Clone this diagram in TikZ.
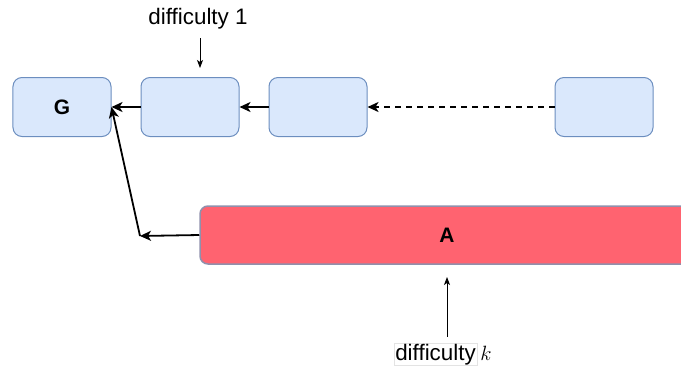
\documentclass[tikz,border=0pt]{standalone}
\usepackage{fontspec}
\setmainfont{Liberation Sans}
\usetikzlibrary{arrows.meta}
\definecolor{boxfill}{HTML}{DAE8FC}
\definecolor{boxline}{HTML}{6C8EBF}
\definecolor{redfill}{HTML}{FF6370}
\definecolor{redline}{HTML}{9090AC}
\begin{document}
\begin{tikzpicture}[x=1bp,y=-1bp,
  block/.style={draw=boxline, fill=boxfill, rounded corners=9bp, line width=1bp,
    minimum width=98bp, minimum height=59bp, inner sep=0pt,
    font=\fontsize{21}{24}\selectfont\bfseries},
  bigblock/.style={draw=redline, fill=redfill, rounded corners=8bp, line width=1.5bp,
    minimum width=494bp, minimum height=58bp, inner sep=0pt,
    font=\fontsize{21}{24}\selectfont\bfseries},
  conn/.style={line width=1.8bp, -{Stealth[length=11bp,width=10bp,inset=3bp]}},
  pointer/.style={line width=0.9bp, -{Stealth[length=8bp,width=6bp,inset=2bp]}},
  lbl/.style={inner sep=0pt, font=\fontsize{22.5}{26}\selectfont}
]
\useasboundingbox (0,0) rectangle (681,366);
\clip (0,0) rectangle (681,366);

% chain of blocks
\node[block] (G)  at (62,107)  {G};
\node[block] (b2) at (190,107) {};
\node[block] (b3) at (318,107) {};
\node[block] (b4) at (604,107) {};

% long block running off the right side
\node[bigblock] (A) at (447,235) {A};

% links along the chain
\draw[conn] (b2.west) -- (G.east);
\draw[conn] (b3.west) -- (b2.east);
\draw[conn, dash pattern=on 6bp off 5bp] (b4.west) -- (b3.east);

% link from A back to G through a corner point
\coordinate (bend) at (140,236);
\draw[conn] (A.west) -- (bend);
\draw[conn] (bend) -- (G.east);

% difficulty labels
\node[lbl] (d1) at (198,19) {difficulty 1};
\coordinate (d1tip) at (200,68);
\draw[pointer] (200,38) -- (d1tip);

\node[lbl, draw=gray!22, line width=0.5bp, inner sep=1bp, anchor=base west] (dk) at (394,360) {difficulty};
\node[lbl, anchor=base west] (dkk) at ([xshift=3bp]dk.base east) {$k$};
\coordinate (dktip) at (447,277);
\draw[pointer] ([yshift=6bp]dktip |- dk.north) -- (dktip);
\end{tikzpicture}
\end{document}
